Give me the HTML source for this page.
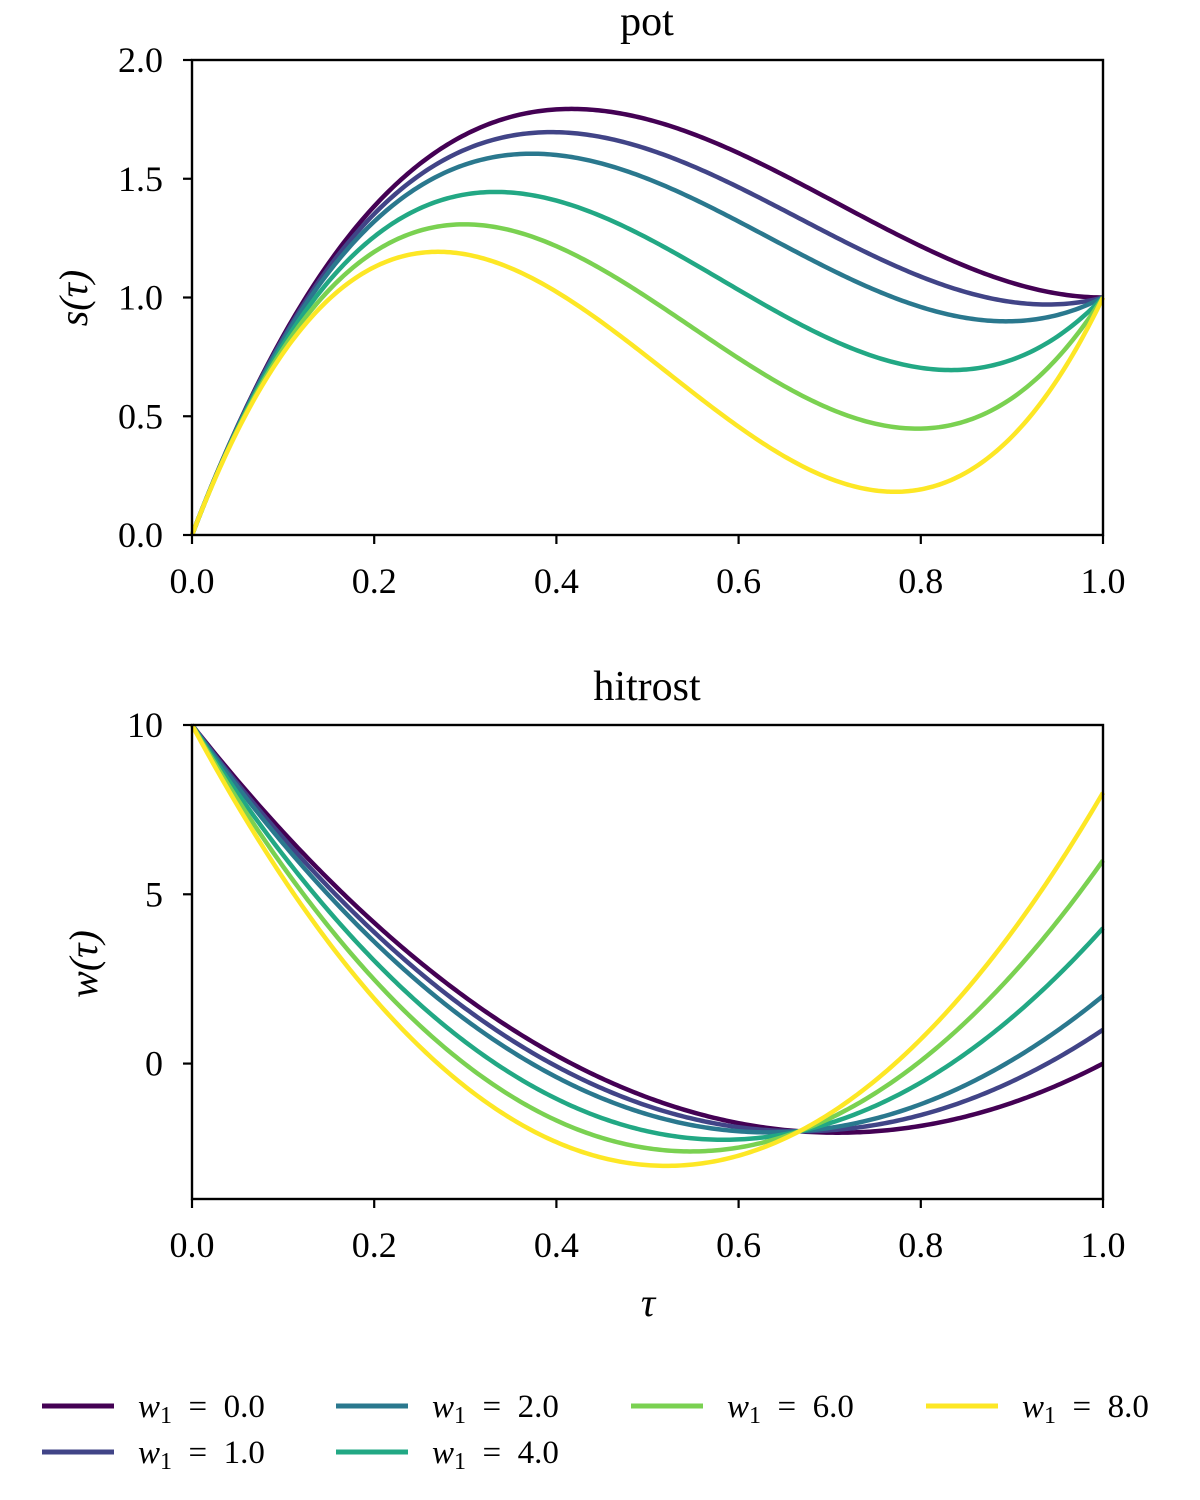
<!DOCTYPE html>
<html><head><meta charset="utf-8"><style>
html,body{margin:0;padding:0;background:#fff;width:1200px;height:1500px;overflow:hidden}
svg text{font-family:"Liberation Serif","DejaVu Serif",serif;fill:#000}
</style></head><body>
<svg id="s" width="1200" height="1500" xmlns="http://www.w3.org/2000/svg">
<g id="curves"></g>
<g fill="none" stroke="#000" stroke-width="2.4">
<rect x="192" y="60" width="911" height="475"/>
<rect x="192" y="725" width="911" height="474"/>
</g>
<g stroke="#000" stroke-width="2.2" id="ticks"></g>
<g font-size="36" id="labels"></g>
<text x="647" y="35" font-size="42" text-anchor="middle">pot</text>
<text x="647" y="700" font-size="42" text-anchor="middle">hitrost</text>
<text x="87" y="298" font-size="40" font-style="italic" text-anchor="middle" transform="rotate(-90 87 298)">s(τ)</text>
<text x="97" y="964" font-size="40" font-style="italic" text-anchor="middle" transform="rotate(-90 97 964)">w(τ)</text>
<text x="648" y="1316" font-size="40" font-style="italic" text-anchor="middle">τ</text>
<g id="legend" font-size="33"></g>
</svg>
<script>
var NS="http://www.w3.org/2000/svg";
function el(p,t,a,txt){var e=document.createElementNS(NS,t);for(var k in a)e.setAttribute(k,a[k]);if(txt!=null)e.textContent=txt;p.appendChild(e);return e;}
var W=[0,1,2,4,6,8],C=["#440154","#414487","#2a788e","#22a884","#7ad151","#fde725"];
var X=function(t){return 192+911*t;};
var cg=document.getElementById("curves");
W.forEach(function(w1,i){
 var b=3*w1+24,a=-2*w1-34,d1="",d2="";
 for(var k=0;k<=300;k++){var t=k/300;
  var s=10*t+a*t*t/2+b*t*t*t/3, w=10+a*t+b*t*t;
  d1+=(k?"L":"M")+X(t).toFixed(2)+","+(535-237.5*s).toFixed(2);
  d2+=(k?"L":"M")+X(t).toFixed(2)+","+(725+(10-w)*33.857).toFixed(2);}
 el(cg,"path",{d:d1,fill:"none",stroke:C[i],"stroke-width":4.5});
 el(cg,"path",{d:d2,fill:"none",stroke:C[i],"stroke-width":4.5});
});
var tg=document.getElementById("ticks"),lg=document.getElementById("labels");
[0,0.2,0.4,0.6,0.8,1].forEach(function(t){
 [535,1199].forEach(function(y){el(tg,"line",{x1:X(t),x2:X(t),y1:y,y2:y+9});
 el(lg,"text",{x:X(t),y:y+58,"text-anchor":"middle"},t.toFixed(1));});
});
[0,0.5,1,1.5,2].forEach(function(v){var y=535-237.5*v;
 el(tg,"line",{x1:183,x2:192,y1:y,y2:y});
 el(lg,"text",{x:163,y:y+12,"text-anchor":"end"},v.toFixed(1));});
[10,5,0].forEach(function(v){var y=725+(10-v)*33.857;
 el(tg,"line",{x1:183,x2:192,y1:y,y2:y});
 el(lg,"text",{x:163,y:y+12,"text-anchor":"end"},String(v));});
var L=document.getElementById("legend");
var pos=[[42,1406],[42,1452],[336,1406],[336,1452],[631,1406],[926,1406]];
W.forEach(function(w1,i){var p=pos[i];
 el(L,"line",{x1:p[0],x2:p[0]+72,y1:p[1],y2:p[1],stroke:C[i],"stroke-width":5});
 var t=el(L,"text",{x:p[0]+96,y:p[1]+11});
 el(t,"tspan",{"font-style":"italic"},"w");
 el(t,"tspan",{"font-size":"24",dy:"6"},"1");
 el(t,"tspan",{dy:"-6","xml:space":"preserve"},"\u2002=\u2002"+w1.toFixed(1));
});
</script>
</body></html>
